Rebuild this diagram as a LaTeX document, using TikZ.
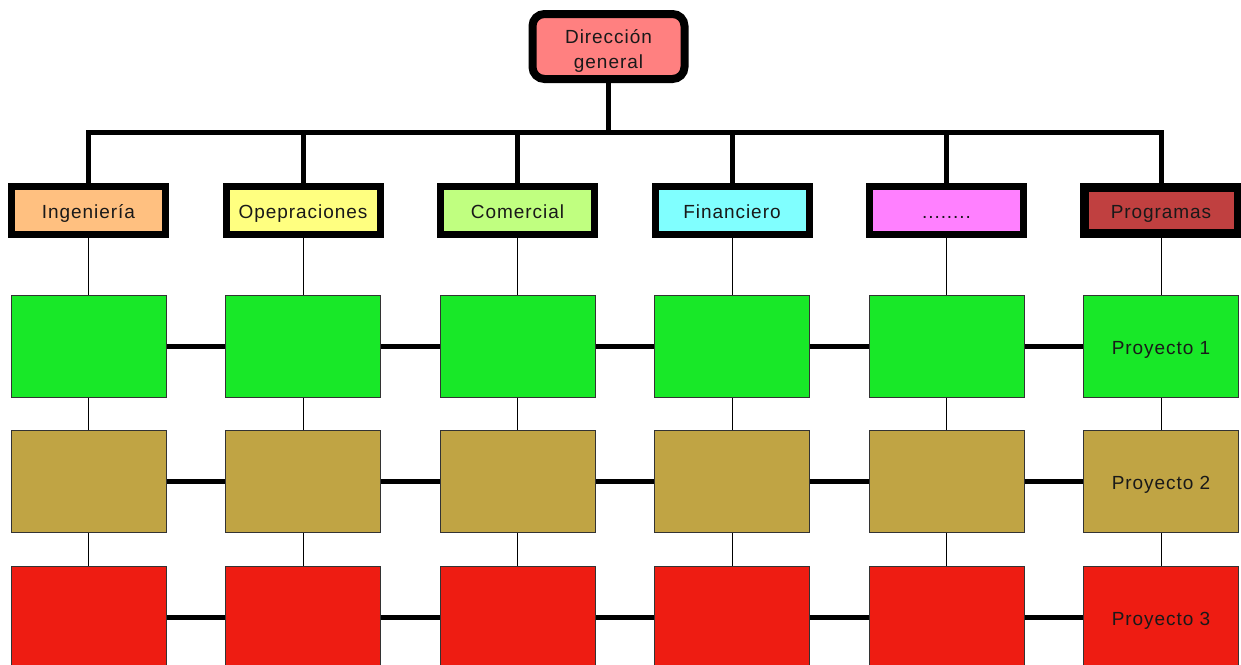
\documentclass[tikz,border=0pt]{standalone}
\usepackage{fontspec}
\setmainfont[LetterSpace=5]{Liberation Sans}
\begin{document}
\begin{tikzpicture}[x=1pt,y=-1pt,
  lbl/.style={font=\fontsize{19}{25}\selectfont, text=black!90},
  fixed/.style={text height=17pt, text depth=1pt},
  head/.style={draw=black, line width=8pt, rounded corners=12pt,
    minimum width=152pt, minimum height=65pt, fill=headc, inner sep=0pt},
  dept/.style={lbl, fixed, draw=black, line width=7pt, minimum width=154pt,
    minimum height=48pt, inner sep=0pt},
  proj/.style={lbl, fixed, draw=black!80, line width=1pt, minimum width=155pt,
    minimum height=102pt, inner sep=0pt},
  bus/.style={line width=5pt},
  link/.style={line width=5pt},
  drop/.style={line width=0.8pt}]
\definecolor{headc}{HTML}{FF8080}
\definecolor{ingc}{HTML}{FFC080}
\definecolor{opec}{HTML}{FFFF80}
\definecolor{comc}{HTML}{C0FF80}
\definecolor{finc}{HTML}{80FFFF}
\definecolor{othc}{HTML}{FF80FF}
\definecolor{prgc}{HTML}{C04040}
\definecolor{rowa}{HTML}{18E828}
\definecolor{rowb}{HTML}{C0A444}
\definecolor{rowc}{HTML}{EE1C12}
\useasboundingbox (0,0) rectangle (1241,664);
\clip (0,0) rectangle (1241,664);

% top of the organisation
\node[head] (top) at (608.5,46.5) {};
\node[lbl, align=center, yshift=-4pt] (toplbl) at (top.center) {Dirección\\general};

% departments
\node[dept, fill=ingc] (d1) at (88.5,210) {Ingeniería};
\node[dept, fill=opec] (d2) at (303,210) {Opepraciones};
\node[dept, fill=comc] (d3) at (517.5,210) {Comercial};
\node[dept, fill=finc] (d4) at (732,210) {Financiero};
\node[dept, fill=othc] (d5) at (946.5,210) {........};
\node[dept, fill=prgc, line width=9pt, minimum width=154pt, minimum height=46pt] (d6) at (1161,210) {Programas};

% bus from the top node to the departments
\coordinate (busL) at (88.5,132);
\coordinate (busR) at (1161,132);
\draw[bus] (top.south) -- (top.south |- busL);
\draw[bus, line cap=rect] (busL) -- (busR);
\foreach \i in {1,...,6} \draw[bus] (d\i.north) -- (d\i.north |- busL);

% project grid
\foreach \i/\x in {1/88.5,2/303,3/517.5,4/732,5/946.5,6/1161} {
  \node[proj, fill=rowa] (a\i) at (\x,346) {};
  \node[proj, fill=rowb] (b\i) at (\x,481.5) {};
  \node[proj, fill=rowc] (c\i) at (\x,617) {};
  \draw[drop] (d\i.south) -- (a\i.north);
  \draw[drop] (a\i.south) -- (b\i.north);
  \draw[drop] (b\i.south) -- (c\i.north);
}
\node[lbl, fixed] (p1) at (a6) {Proyecto 1};
\node[lbl, fixed] (p2) at (b6) {Proyecto 2};
\node[lbl, fixed] (p3) at (c6) {Proyecto 3};

\foreach \i [evaluate=\i as \j using int(\i+1)] in {1,...,5} {
  \draw[link] (a\i.east) -- (a\j.west);
  \draw[link] (b\i.east) -- (b\j.west);
  \draw[link] (c\i.east) -- (c\j.west);
}
\end{tikzpicture}
\end{document}
